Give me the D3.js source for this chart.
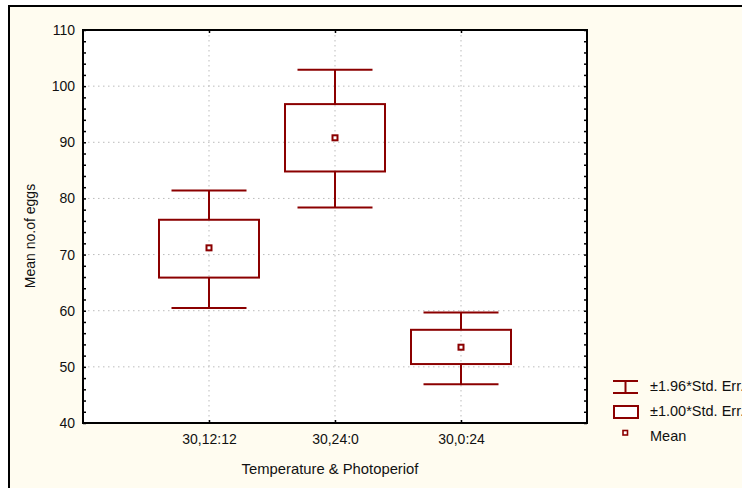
<!DOCTYPE html>
<html><head><meta charset="utf-8">
<script src="https://cdn.jsdelivr.net/npm/d3@7"></script>
<style>body{margin:0;background:#fff}svg{display:block}text{font-family:"Liberation Sans",Arial,sans-serif}</style>
</head><body><svg id="c" width="742" height="488"></svg>
<script>
const categories = ["30,12:12","30,24:0","30,0:24"];
const means      = [71.2, 90.8, 53.5];
const boxHigh    = [76.2, 96.8, 56.6];
const boxLow     = [65.9, 84.8, 50.5];
const whiskHigh  = [81.4, 102.9, 59.7];
const whiskLow   = [60.5, 78.4, 46.9];
const yTicks     = [40,50,60,70,80,90,100,110];
const legendLabels = ["\u00b11.96*Std. Err.","\u00b11.00*Std. Err.","Mean"];

const svg = d3.select("#c");
const red = "#8b0000";
const L=83, T=30, R=587, B=423;

svg.append("rect").attr("x",9).attr("y",6).attr("width",745).attr("height",495)
  .attr("fill","#fffcf0").attr("stroke","#000").attr("stroke-width",2);

const x = d3.scalePoint().domain(categories).range([L,R]).padding(1);
const y = d3.scaleLinear().domain([40,110]).range([B,T]);

const g = svg.append("g");
g.append("rect").attr("x",L).attr("y",T).attr("width",R-L).attr("height",B-T).attr("fill","#fff");

// grid
g.selectAll(".hg").data(yTicks.filter(v=>v>40&&v<110)).join("line")
  .attr("x1",L).attr("x2",R).attr("y1",d=>y(d)).attr("y2",d=>y(d))
  .attr("stroke","#bbb").attr("stroke-width",1).attr("stroke-dasharray","1.5,3.5");
g.selectAll(".vg").data(categories).join("line")
  .attr("x1",d=>x(d)).attr("x2",d=>x(d)).attr("y1",T).attr("y2",B)
  .attr("stroke","#bbb").attr("stroke-width",1).attr("stroke-dasharray","1.5,3.5");

// axes
const minor = d3.range(40,111,2);
const axL = d3.axisLeft(y).tickValues(yTicks).tickSize(0).tickPadding(8);
const gl = g.append("g").attr("transform",`translate(${L},0)`).call(axL);
gl.select(".domain").remove();
gl.selectAll("text").attr("font-size",14).attr("fill","#111");
g.append("g").attr("transform",`translate(${L},0)`).call(d3.axisRight(y).tickValues(minor).tickSize(3).tickFormat(""))
  .call(s=>s.select(".domain").remove());
g.append("g").attr("transform",`translate(${R},0)`).call(d3.axisLeft(y).tickValues(minor).tickSize(3).tickFormat(""))
  .call(s=>s.select(".domain").remove());
const gb = g.append("g").attr("transform",`translate(0,${B})`).call(d3.axisTop(x).tickSize(3).tickFormat(""));
gb.select(".domain").remove();
const gbl = g.append("g").attr("transform",`translate(0,${B})`).call(d3.axisBottom(x).tickSize(0).tickPadding(11));
gbl.select(".domain").remove();
gbl.selectAll("text").attr("font-size",14).attr("fill","#111");
g.append("g").attr("transform",`translate(0,${T})`).call(d3.axisBottom(x).tickSize(3).tickFormat(""))
  .call(s=>s.select(".domain").remove());
g.selectAll(".tick line").attr("stroke","#000").attr("stroke-width",1.5);

g.append("rect").attr("x",L).attr("y",T).attr("width",R-L).attr("height",B-T)
  .attr("fill","none").attr("stroke","#000").attr("stroke-width",2);

// boxes
const bw=50, cw=37.5;
const idx = categories.map((c,i)=>i);
const bx = g.append("g").attr("stroke",red).attr("stroke-width",2).attr("fill","none");
bx.selectAll(".wv1").data(idx).join("line").attr("x1",i=>x(categories[i])).attr("x2",i=>x(categories[i]))
  .attr("y1",i=>y(whiskHigh[i])).attr("y2",i=>y(boxHigh[i]));
bx.selectAll(".wv2").data(idx).join("line").attr("x1",i=>x(categories[i])).attr("x2",i=>x(categories[i]))
  .attr("y1",i=>y(boxLow[i])).attr("y2",i=>y(whiskLow[i]));
bx.selectAll(".cap1").data(idx).join("line").attr("x1",i=>x(categories[i])-cw).attr("x2",i=>x(categories[i])+cw)
  .attr("y1",i=>y(whiskHigh[i])).attr("y2",i=>y(whiskHigh[i]));
bx.selectAll(".cap2").data(idx).join("line").attr("x1",i=>x(categories[i])-cw).attr("x2",i=>x(categories[i])+cw)
  .attr("y1",i=>y(whiskLow[i])).attr("y2",i=>y(whiskLow[i]));
bx.selectAll(".box").data(idx).join("rect").attr("x",i=>x(categories[i])-bw).attr("width",2*bw)
  .attr("y",i=>y(boxHigh[i])).attr("height",i=>y(boxLow[i])-y(boxHigh[i]));
bx.selectAll(".mean").data(idx).join("rect").attr("x",i=>x(categories[i])-2.5).attr("width",5)
  .attr("y",i=>y(means[i])-2.5).attr("height",5).attr("fill","#fff");

// titles
svg.append("text").attr("x",330).attr("y",474).attr("text-anchor","middle").attr("font-size",14.8)
  .attr("fill","#111").text("Temperature & Photoperiof");
svg.append("text").attr("transform","translate(35,236) rotate(-90)").attr("text-anchor","middle")
  .attr("font-size",14).attr("fill","#111").text("Mean no.of eggs");

// legend
const lg = svg.append("g");
const ly = [387,412,433];
lg.append("line").attr("x1",613).attr("x2",638).attr("y1",ly[0]-6).attr("y2",ly[0]-6).attr("stroke",red).attr("stroke-width",2);
lg.append("line").attr("x1",613).attr("x2",638).attr("y1",ly[0]+6).attr("y2",ly[0]+6).attr("stroke",red).attr("stroke-width",2);
lg.append("line").attr("x1",625.5).attr("x2",625.5).attr("y1",ly[0]-6).attr("y2",ly[0]+6).attr("stroke",red).attr("stroke-width",2);
lg.append("rect").attr("x",614).attr("y",ly[1]-6).attr("width",24).attr("height",12).attr("fill","#fff").attr("stroke",red).attr("stroke-width",2);
lg.append("rect").attr("x",623).attr("y",ly[2]-2.5).attr("width",4.5).attr("height",4.5).attr("fill","#fff").attr("stroke",red).attr("stroke-width",1.6);
lg.selectAll("text").data(legendLabels).join("text").attr("x",650).attr("y",(d,i)=>[391,416,441][i])
  .attr("font-size",14.5).attr("fill","#111").text(d=>d);
</script></body></html>
